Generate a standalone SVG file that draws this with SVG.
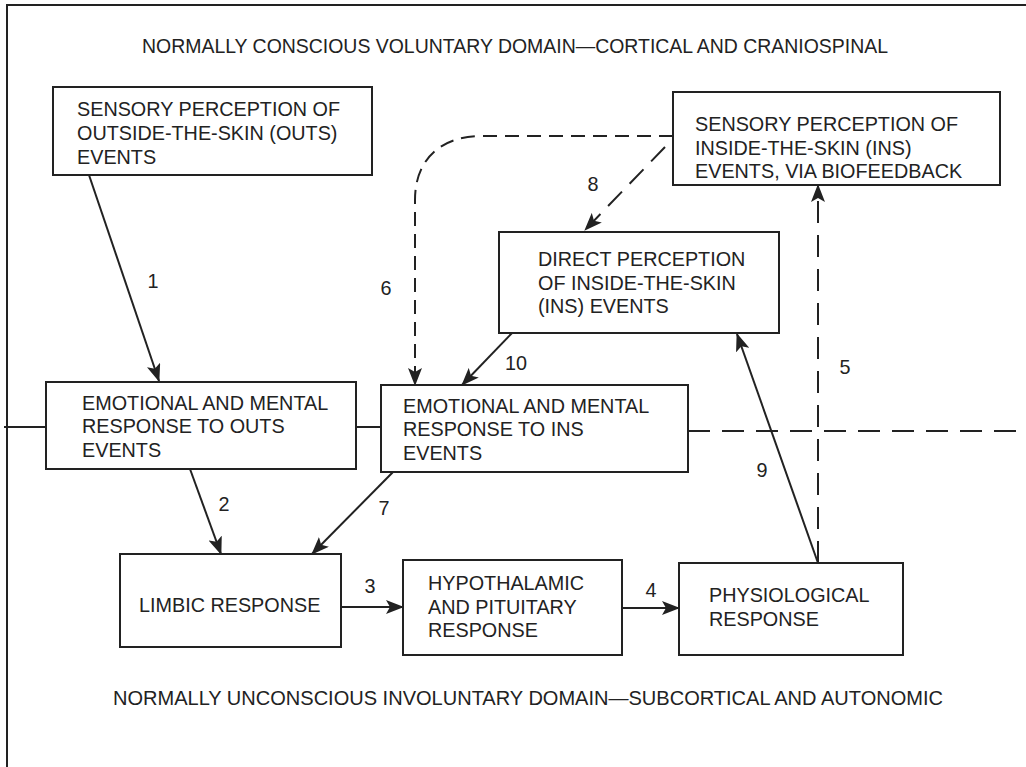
<svg xmlns="http://www.w3.org/2000/svg" width="1026" height="767" viewBox="0 0 1026 767">
<defs>
<style>
.box{fill:#fff;stroke:#222;stroke-width:2}
.t{font-family:"Liberation Sans",Arial,sans-serif;font-size:19.8px;fill:#222}
.ln{fill:none;stroke:#222;stroke-width:2}
.d1{stroke-dasharray:14 8}
.d2{stroke-dasharray:22 12}
.d3{stroke-dasharray:20 11}
</style>
<marker id="ah" viewBox="0 0 18 14" refX="17" refY="7" markerWidth="18" markerHeight="14" orient="auto" markerUnits="userSpaceOnUse">
<path d="M0,0 L18,7 L0,14 L4,7 z" fill="#222"/>
</marker>
</defs>
<rect width="1026" height="767" fill="#fff"/>
<g id="frame">
<polyline class="ln" points="7,767 7,5 1026,5"/>
</g>
<g id="titles">
<text class="t" x="142" y="53" textLength="746" lengthAdjust="spacingAndGlyphs">NORMALLY CONSCIOUS VOLUNTARY DOMAIN—CORTICAL AND CRANIOSPINAL</text>
<text class="t" x="113" y="705" textLength="830" lengthAdjust="spacingAndGlyphs">NORMALLY UNCONSCIOUS INVOLUNTARY DOMAIN—SUBCORTICAL AND AUTONOMIC</text>
</g>
<g id="connectors">
<line class="ln" x1="4" y1="427" x2="46" y2="427"/>
<line class="ln" x1="356" y1="427" x2="381" y2="427"/>
<line class="ln d2" x1="688" y1="431" x2="1026" y2="431"/>
<line class="ln" x1="89" y1="175" x2="159" y2="381" marker-end="url(#ah)"/>
<line class="ln" x1="190" y1="469" x2="221" y2="554" marker-end="url(#ah)"/>
<line class="ln" x1="393" y1="472" x2="312" y2="554" marker-end="url(#ah)"/>
<line class="ln" x1="341" y1="607" x2="403" y2="607" marker-end="url(#ah)"/>
<line class="ln" x1="622" y1="608" x2="679" y2="608" marker-end="url(#ah)"/>
<line class="ln" x1="512" y1="333" x2="462" y2="385" marker-end="url(#ah)"/>
<path class="ln d1" d="M673,136 H482 C440,136 415,160 415,200 V385" marker-end="url(#ah)"/>
<line class="ln d3" x1="665" y1="147" x2="585" y2="230" marker-end="url(#ah)"/>
<line class="ln d2" x1="818" y1="563" x2="818" y2="185" marker-end="url(#ah)"/>
<line class="ln" x1="818" y1="563" x2="737" y2="334" marker-end="url(#ah)"/>
<text class="t" x="153" y="288" text-anchor="middle">1</text>
<text class="t" x="224" y="511" text-anchor="middle">2</text>
<text class="t" x="370" y="593" text-anchor="middle">3</text>
<text class="t" x="651" y="597" text-anchor="middle">4</text>
<text class="t" x="845" y="374" text-anchor="middle">5</text>
<text class="t" x="386" y="295" text-anchor="middle">6</text>
<text class="t" x="384" y="515" text-anchor="middle">7</text>
<text class="t" x="593" y="191" text-anchor="middle">8</text>
<text class="t" x="762" y="477" text-anchor="middle">9</text>
<text class="t" x="516" y="370" text-anchor="middle">10</text>
</g>
<g id="node-outs-perception">
<rect class="box" x="53" y="87" width="319" height="88"/>
<text class="t" x="77" y="116">SENSORY PERCEPTION OF</text>
<text class="t" x="77" y="140">OUTSIDE-THE-SKIN (OUTS)</text>
<text class="t" x="77" y="164">EVENTS</text>
</g>
<g id="node-ins-biofeedback">
<rect class="box" x="673" y="92" width="327" height="93"/>
<text class="t" x="695" y="131">SENSORY PERCEPTION OF</text>
<text class="t" x="695" y="155">INSIDE-THE-SKIN (INS)</text>
<text class="t" x="695" y="178">EVENTS, VIA BIOFEEDBACK</text>
</g>
<g id="node-direct-perception">
<rect class="box" x="499" y="232" width="280" height="101"/>
<text class="t" x="538" y="266">DIRECT PERCEPTION</text>
<text class="t" x="538" y="290">OF INSIDE-THE-SKIN</text>
<text class="t" x="538" y="313">(INS) EVENTS</text>
</g>
<g id="node-emotional-outs">
<rect class="box" x="46" y="382" width="310" height="87"/>
<text class="t" x="82" y="410">EMOTIONAL AND MENTAL</text>
<text class="t" x="82" y="433">RESPONSE TO OUTS</text>
<text class="t" x="82" y="457">EVENTS</text>
</g>
<g id="node-emotional-ins">
<rect class="box" x="381" y="385" width="307" height="87"/>
<text class="t" x="403" y="413">EMOTIONAL AND MENTAL</text>
<text class="t" x="403" y="436">RESPONSE TO INS</text>
<text class="t" x="403" y="460">EVENTS</text>
</g>
<g id="node-limbic">
<rect class="box" x="120" y="554" width="221" height="93"/>
<text class="t" x="139" y="612">LIMBIC RESPONSE</text>
</g>
<g id="node-hypothalamic">
<rect class="box" x="403" y="560" width="219" height="95"/>
<text class="t" x="428" y="590">HYPOTHALAMIC</text>
<text class="t" x="428" y="614">AND PITUITARY</text>
<text class="t" x="428" y="637">RESPONSE</text>
</g>
<g id="node-physiological">
<rect class="box" x="679" y="563" width="224" height="92"/>
<text class="t" x="709" y="602">PHYSIOLOGICAL</text>
<text class="t" x="709" y="626">RESPONSE</text>
</g>
</svg>
